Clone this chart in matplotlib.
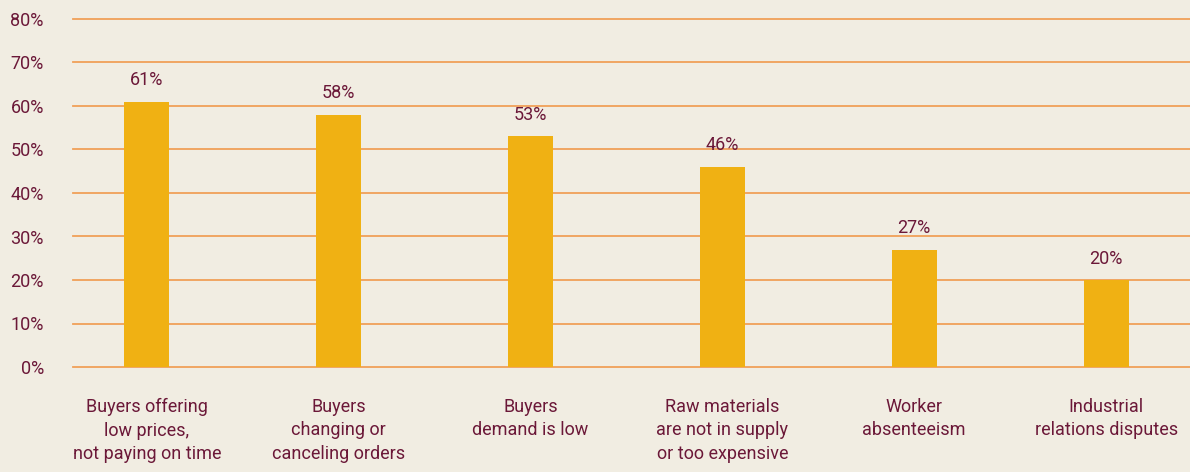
import matplotlib
matplotlib.use("Agg")
import matplotlib.pyplot as plt

categories = [
    "Buyers offering\nlow prices,\nnot paying on time",
    "Buyers\nchanging or\ncanceling orders",
    "Buyers\ndemand is low",
    "Raw materials\nare not in supply\nor too expensive",
    "Worker\nabsenteeism",
    "Industrial\nrelations disputes",
]
values = [61, 58, 53, 46, 27, 20]
yticks = [0, 10, 20, 30, 40, 50, 60, 70, 80]

plt.rcParams["font.family"] = ["Roboto", "DejaVu Sans"]

bg = "#f1ede2"
bar_c = "#f0b113"
txt_c = "#6b1838"
grid_c = "#f0a058"
fs = 13

fig = plt.figure(figsize=(11.9, 4.72), dpi=100, facecolor=bg)
ax = fig.add_axes([73/1190, 1-367/472, 1-73/1190, (367-19)/472])
ax.set_facecolor(bg)

x = list(range(len(categories)))
ax.bar(x, values, width=0.234, color=bar_c, zorder=3)
for xi, v in zip(x, values):
    ax.annotate(f"{v}%", (xi, v), xytext=(0, 9), textcoords="offset points",
                ha="center", va="bottom", color=txt_c, fontsize=fs)

ax.set_ylim(0, 80)
ax.set_xlim(-0.385, 5.4375)
ax.set_yticks(yticks)
ax.set_yticklabels([f"{t}%" for t in yticks], color=txt_c, fontsize=fs)
ax.set_xticks(x)
ax.set_xticklabels(categories, color=txt_c, fontsize=fs, linespacing=1.42, va="top")
ax.tick_params(axis="both", length=0)
ax.tick_params(axis="y", pad=21)
ax.tick_params(axis="x", pad=22)
for yt in yticks:
    ax.axhline(yt, color=grid_c, lw=1.3, zorder=1, clip_on=False)
for s in ax.spines.values():
    s.set_visible(False)

fig.savefig("out.png", dpi=100, facecolor=bg)
